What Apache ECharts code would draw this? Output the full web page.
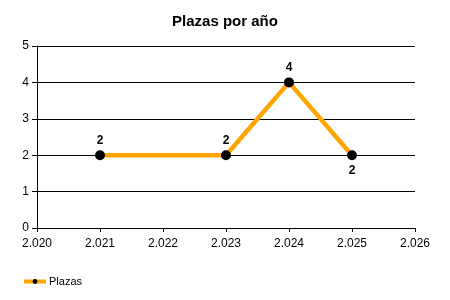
<!DOCTYPE html>
<html><head><meta charset="utf-8">
<script src="https://cdn.jsdelivr.net/npm/echarts@6/dist/echarts.min.js"></script>
<style>html,body{margin:0;padding:0;background:#fff}#c{width:450px;height:300px}</style>
</head><body><div id="c"></div>
<script>
const title = 'Plazas por año';
const seriesName = 'Plazas';
const years = [2021, 2023, 2024, 2025];
const plazas = [2, 2, 4, 2];
const xMin = 2020, xMax = 2026, yMin = 0, yMax = 5;

function fmtThousands(v) {
  const s = String(Math.round(v));
  return s.replace(/\B(?=(\d{3})+(?!\d))/g, '.');
}
const font = 'Liberation Sans, Arial, sans-serif';
const chart = echarts.init(document.getElementById('c'), null, {renderer: 'canvas'});
chart.setOption({
  animation: false,
  title: {text: title, left: 'center', top: 9,
    textStyle: {fontFamily: font, fontSize: 15, fontWeight: 'bold', color: '#000'}},
  legend: {left: 17, top: 271, itemWidth: 22, itemHeight: 6, itemGap: 10,
    lineStyle: {width: 4, color: '#FFA500'},
    textStyle: {fontFamily: font, fontSize: 11, color: '#000', padding: [0,0,0,-2]},
    data: [seriesName]},
  grid: {left: 37, right: 35, top: 46, bottom: 72, containLabel: false},
  xAxis: {type: 'value', min: xMin, max: xMax, interval: 1,
    axisLine: {lineStyle: {color: '#000', width: 1}},
    axisTick: {show: true, length: 4, lineStyle: {color: '#000'}},
    splitLine: {show: false},
    axisLabel: {fontFamily: font, fontSize: 12, color: '#000', margin: 10,
      formatter: v => fmtThousands(v)}},
  yAxis: {type: 'value', min: yMin, max: yMax, interval: 1,
    axisLine: {show: true, lineStyle: {color: '#000', width: 1}},
    axisTick: {show: true, length: 5, lineStyle: {color: '#000'}},
    splitLine: {show: true, lineStyle: {color: '#000', width: 1}},
    axisLabel: {fontFamily: font, fontSize: 12, color: '#000', margin: 8}},
  series: [{
    name: seriesName, type: 'line',
    data: years.map((y, i) => ({
      value: [y, plazas[i]],
      label: {position: i === years.length - 1 ? 'bottom' : 'top'}
    })),
    symbol: 'circle', symbolSize: 10,
    itemStyle: {color: '#000'},
    lineStyle: {color: '#FFA500', width: 4.5},
    label: {show: true, fontFamily: font, fontSize: 12, fontWeight: 'bold', color: '#000', distance: 4}
  }]
});
</script></body></html>
